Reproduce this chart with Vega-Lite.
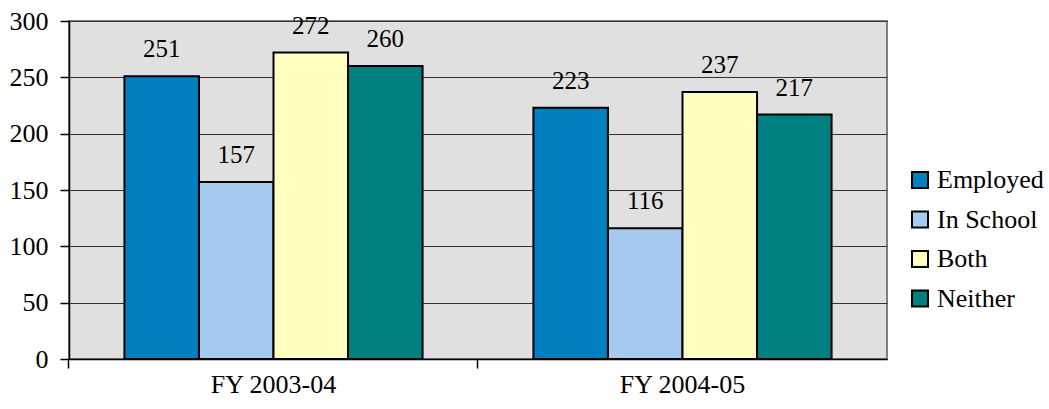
{
  "$schema": "https://vega.github.io/schema/vega-lite/v6.json",
  "width": 818,
  "height": 338,
  "autosize": {"type": "none"},
  "padding": {"left": 69, "top": 21, "right": 162, "bottom": 50},
  "background": "white",
  "config": {
    "font": "Liberation Serif, Times New Roman, serif",
    "axis": {"labelFont": "Liberation Serif, Times New Roman, serif"},
    "legend": {"labelFont": "Liberation Serif, Times New Roman, serif"},
    "text": {"font": "Liberation Serif, Times New Roman, serif"},
    "style": {"guide-label": {"font": "Liberation Serif, Times New Roman, serif"}},
    "view": {"fill": "#e0e0e0", "stroke": "#808080", "strokeWidth": 2}
  },
  "data": {
    "values": [
      {"year": "FY 2003-04", "status": "Employed", "value": 251},
      {"year": "FY 2003-04", "status": "In School", "value": 157},
      {"year": "FY 2003-04", "status": "Both", "value": 272},
      {"year": "FY 2003-04", "status": "Neither", "value": 260},
      {"year": "FY 2004-05", "status": "Employed", "value": 223},
      {"year": "FY 2004-05", "status": "In School", "value": 116},
      {"year": "FY 2004-05", "status": "Both", "value": 237},
      {"year": "FY 2004-05", "status": "Neither", "value": 217}
    ]
  },
  "encoding": {
    "x": {
      "field": "year", "type": "nominal",
      "scale": {"paddingInner": 0.271, "paddingOuter": 0.1355},
      "axis": {
        "title": null, "labelAngle": 0, "labelFontSize": 26, "labelColor": "black", "labelFont": "Liberation Serif, Times New Roman, serif",
        "labelPadding": 3, "domainColor": "black", "domainWidth": 1.5,
        "tickColor": "black", "tickSize": 9, "tickWidth": 1.5,
        "bandPosition": -0.186
      }
    },
    "xOffset": {"field": "status", "type": "nominal", "sort": ["Employed", "In School", "Both", "Neither"], "scale": {"paddingInner": 0, "paddingOuter": 0}},
    "y": {
      "field": "value", "type": "quantitative",
      "scale": {"domain": [0, 300], "nice": false},
      "axis": {
        "title": null, "values": [0, 50, 100, 150, 200, 250, 300],
        "labelFontSize": 26, "labelColor": "black", "labelFont": "Liberation Serif, Times New Roman, serif", "labelPadding": 12,
        "domainColor": "black", "domainWidth": 1.5,
        "tickColor": "black", "tickSize": 9, "tickWidth": 1.5,
        "gridColor": "#333333", "gridWidth": 1, "gridOpacity": 1
      }
    }
  },
  "layer": [
    {
      "mark": {"type": "bar", "stroke": "black", "strokeWidth": 2},
      "encoding": {
        "color": {
          "field": "status", "type": "nominal",
          "sort": ["Employed", "In School", "Both", "Neither"],
          "scale": {"domain": ["Employed", "In School", "Both", "Neither"], "range": ["#0080c0", "#a6caf0", "#ffffc0", "#008080"]},
          "legend": {
            "title": null, "orient": "none", "legendX": 838, "legendY": 146,
            "symbolType": "square", "symbolSize": 256, "symbolStrokeColor": "black", "symbolStrokeWidth": 2,
            "labelFontSize": 26, "labelFont": "Liberation Serif, Times New Roman, serif", "labelColor": "black", "rowPadding": 13.5, "labelOffset": 4
          }
        }
      }
    },
    {
      "mark": {"type": "text", "baseline": "alphabetic", "dy": -19, "fontSize": 25, "font": "Liberation Serif, Times New Roman, serif", "color": "black"},
      "encoding": {"text": {"field": "value", "type": "quantitative"}}
    }
  ]
}
